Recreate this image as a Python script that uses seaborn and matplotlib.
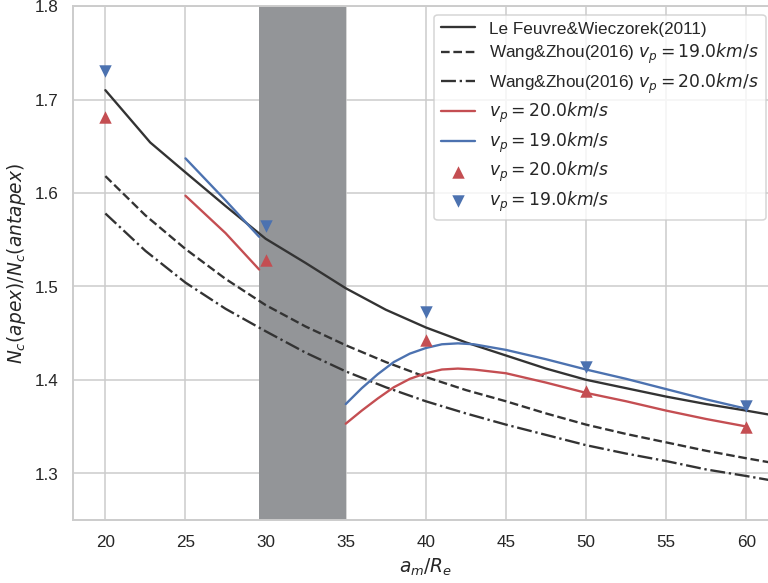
import matplotlib
matplotlib.use("Agg")
import matplotlib.pyplot as plt
import seaborn as sns

# Le Feuvre & Wieczorek (2011)
lf_x = [20, 22.8, 25, 27.5, 30, 32.5, 35, 37.5, 40, 42.5, 45, 47.5, 50, 52.5, 55, 57.5, 60, 62]
lf_y = [1.710, 1.654, 1.622, 1.586, 1.551, 1.525, 1.498, 1.475, 1.456, 1.440, 1.426, 1.412,
        1.400, 1.391, 1.382, 1.374, 1.367, 1.361]

# Wang & Zhou (2016)
wz_x = [20, 22.5, 25, 27.5, 30, 32.5, 35, 37.5, 40, 42.5, 45, 47.5, 50, 52.5, 55, 57.5, 60, 62]
wz19_y = [1.618, 1.576, 1.540, 1.508, 1.480, 1.457, 1.437, 1.419, 1.403, 1.389, 1.377, 1.364,
          1.352, 1.342, 1.333, 1.324, 1.316, 1.310]
wz20_y = [1.578, 1.538, 1.504, 1.476, 1.452, 1.429, 1.409, 1.392, 1.377, 1.364, 1.352, 1.341,
          1.330, 1.321, 1.313, 1.304, 1.297, 1.291]

# eigene Kurven (zwei Abschnitte, Lücke im grauen Bereich)
seg1_x = [25, 27.5, 29.6]
v20_seg1_y = [1.597, 1.557, 1.518]
v19_seg1_y = [1.637, 1.592, 1.553]

seg2_x = [35, 36, 37, 38, 39, 40, 41, 42, 43, 45, 47.5, 50, 52.5, 55, 57.5, 60]
v20_seg2_y = [1.353, 1.367, 1.380, 1.392, 1.401, 1.407, 1.411, 1.412, 1.411, 1.407, 1.397,
              1.386, 1.377, 1.367, 1.358, 1.350]
v19_seg2_y = [1.374, 1.391, 1.406, 1.419, 1.428, 1.434, 1.438, 1.439, 1.438, 1.432, 1.422,
              1.411, 1.401, 1.390, 1.379, 1.369]

# Punkte
pts_x = [20, 30, 40, 50, 60]
pts20_y = [1.681, 1.528, 1.443, 1.388, 1.349]
pts19_y = [1.730, 1.565, 1.473, 1.414, 1.372]

span_lo, span_hi = 29.6, 35.0

sns.set_theme(style="whitegrid")
plt.rcParams['font.sans-serif'] = ['Liberation Sans', 'DejaVu Sans']

red = '#c44e52'
blue = '#4c72b0'
dark = '#333333'

dpi = 112
fig = plt.figure(figsize=(768.4 / dpi, 583.4 / dpi), dpi=dpi)
ax = fig.add_axes([0.0954, 0.1081, 0.9176, 0.8808])

ax.axvspan(span_lo, span_hi, color='#939598', lw=0, zorder=1)

h_lf = sns.lineplot(x=lf_x, y=lf_y, color=dark, sort=False, ax=ax,
                    label='Le Feuvre&Wieczorek(2011)').lines[-1]
h_w19 = sns.lineplot(x=wz_x, y=wz19_y, color=dark, linestyle='--', sort=False, ax=ax,
                     label='Wang&Zhou(2016) $v_p=19.0km/s$').lines[-1]
h_w20 = sns.lineplot(x=wz_x, y=wz20_y, color=dark, linestyle='-.', sort=False, ax=ax,
                     label='Wang&Zhou(2016) $v_p=20.0km/s$').lines[-1]

h_r = sns.lineplot(x=seg1_x, y=v20_seg1_y, color=red, sort=False, ax=ax,
                   label='$v_p=20.0km/s$').lines[-1]
sns.lineplot(x=seg2_x, y=v20_seg2_y, color=red, sort=False, ax=ax)
h_b = sns.lineplot(x=seg1_x, y=v19_seg1_y, color=blue, sort=False, ax=ax,
                   label='$v_p=19.0km/s$').lines[-1]
sns.lineplot(x=seg2_x, y=v19_seg2_y, color=blue, sort=False, ax=ax)

sns.scatterplot(x=pts_x, y=pts20_y, color=red, marker='^', s=64, linewidth=0,
                zorder=3, ax=ax, label='$v_p=20.0km/s$')
sns.scatterplot(x=pts_x, y=pts19_y, color=blue, marker='v', s=64, linewidth=0,
                zorder=3, ax=ax, label='$v_p=19.0km/s$')
h_sr, h_sb = ax.collections[-2], ax.collections[-1]

ax.set_xlim(18, 62)
ax.set_ylim(1.25, 1.8)
ax.set_xticks([20, 25, 30, 35, 40, 45, 50, 55, 60])
ax.set_yticks([1.3, 1.4, 1.5, 1.6, 1.7, 1.8])
ax.set_xlabel('$a_m/R_e$')
ax.set_ylabel('$N_c(apex)/N_c(antapex)$')

handles = [h_lf, h_w19, h_w20, h_r, h_b, h_sr, h_sb]
labels = [h.get_label() for h in handles]
ax.legend(handles, labels, loc='upper right', bbox_to_anchor=(0.994, 1.0),
          labelspacing=0.31)

fig.savefig('out.png', dpi=dpi)
